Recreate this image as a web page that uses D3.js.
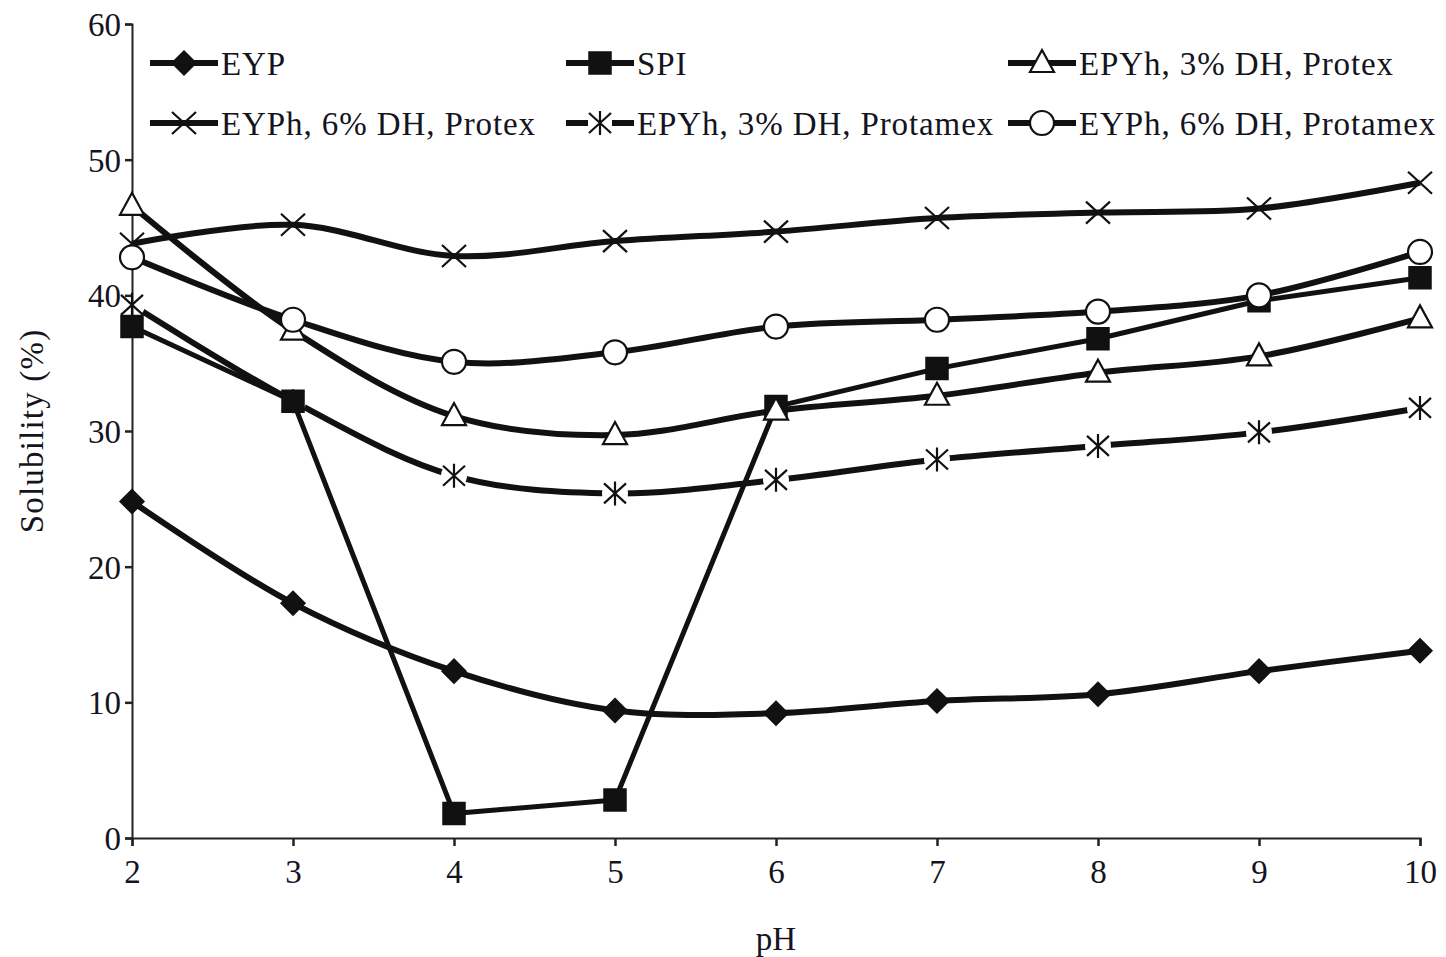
<!DOCTYPE html>
<html>
<head>
<meta charset="utf-8">
<script src="https://cdn.jsdelivr.net/npm/d3@7"></script>
<style>
  body { margin: 0; background: #fff; }
  text { font-family: "Liberation Serif", "DejaVu Serif", serif; fill: #141420; }
</style>
</head>
<body>
<svg id="chart" width="1446" height="957"></svg>
<script>
// data
var pH = [2, 3, 4, 5, 6, 7, 8, 9, 10];
var eyp = [24.8, 17.3, 12.3, 9.4, 9.2, 10.1, 10.6, 12.3, 13.8];
var spi = [37.7, 32.2, 1.8, 2.8, 31.8, 34.6, 36.8, 39.6, 41.3];
var protex3 = [46.6, 37.4, 31.1, 29.7, 31.5, 32.6, 34.3, 35.5, 38.3];
var protex6 = [43.8, 45.2, 42.9, 44.0, 44.7, 45.7, 46.1, 46.4, 48.3];
var protamex3 = [39.3, 32.2, 26.7, 25.4, 26.4, 27.9, 28.9, 29.9, 31.7];
var protamex6 = [42.8, 38.2, 35.1, 35.8, 37.7, 38.2, 38.8, 40.0, 43.2];
var yTicks = [0, 10, 20, 30, 40, 50, 60];

var series = [
  { name: "EYP", values: eyp, marker: "diamond", smooth: true, gap: false },
  { name: "SPI", values: spi, marker: "square", smooth: false, gap: false },
  { name: "EPYh, 3% DH, Protex", values: protex3, marker: "triangle", smooth: true, gap: false },
  { name: "EYPh, 6% DH, Protex", values: protex6, marker: "cross", smooth: true, gap: false },
  { name: "EPYh, 3% DH, Protamex", values: protamex3, marker: "star", smooth: true, gap: true },
  { name: "EYPh, 6% DH, Protamex", values: protamex6, marker: "circle", smooth: true, gap: false }
];

var svg = d3.select("#chart");
var x = d3.scaleLinear().domain([2, 10]).range([132, 1420]);
var y = d3.scaleLinear().domain([0, 60]).range([838, 24]);

// axes
var xAxis = svg.append("g").attr("transform", "translate(0," + y(0) + ")")
  .call(d3.axisBottom(x).tickValues(pH).tickSize(8).tickPadding(14).tickFormat(d3.format("d")));
var yAxis = svg.append("g").attr("transform", "translate(" + x(2) + ",0)")
  .call(d3.axisLeft(y).tickValues(yTicks).tickSize(7).tickPadding(4));
[xAxis, yAxis].forEach(function(a) {
  a.select(".domain").attr("stroke", "#222").attr("stroke-width", 2);
  a.selectAll(".tick line").attr("stroke", "#222").attr("stroke-width", 2.5);
  a.selectAll(".tick text").style("font-size", "33px").attr("fill", "#141420");
});
yAxis.selectAll(".tick text").attr("dy", "0.35em");

svg.append("text").attr("x", x(6)).attr("y", 950).attr("text-anchor", "middle")
  .style("font-size", "33px").text("pH");
svg.append("text").attr("transform", "translate(43," + y(30) + ") rotate(-90)")
  .attr("text-anchor", "middle").style("font-size", "33px").style("letter-spacing", "1.2px")
  .text("Solubility (%)");

// markers
function markerPath(type) {
  switch (type) {
    case "diamond": return "M0,-12L12,0L0,12L-12,0Z";
    case "square": return "M-11,-11H11V11H-11Z";
    case "triangle": return "M0,-13L12,9H-12Z";
    case "cross": return "M-12,-11L12,11M-12,11L12,-11";
    case "star": return "M-11,-10L11,10M-11,10L11,-10M0,-12V12";
    case "circle": return d3.arc()({ innerRadius: 0, outerRadius: 12, startAngle: 0, endAngle: 2 * Math.PI });
  }
}
function drawMarker(g, type) {
  var filled = type === "diamond" || type === "square";
  var open = type === "triangle" || type === "circle";
  g.append("path").attr("d", markerPath(type))
    .attr("fill", filled ? "#111" : open ? "#fff" : "none")
    .attr("stroke", "#111")
    .attr("stroke-width", filled ? 1.5 : 2.2);
}

var defs = svg.append("defs");
var plot = svg.append("g");

series.forEach(function(s, i) {
  var pts = pH.map(function(p, j) { return [x(p), y(s.values[j])]; });
  var line = d3.line().curve(s.smooth ? d3.curveCatmullRom.alpha(0.5) : d3.curveLinear);
  var path = plot.append("path").attr("d", line(pts))
    .attr("fill", "none").attr("stroke", "#111")
    .attr("stroke-width", s.marker === "square" ? 5 : 6)
    .attr("stroke-linejoin", "round");
  if (s.gap) {
    var m = defs.append("mask").attr("id", "gap" + i).attr("maskUnits", "userSpaceOnUse");
    m.append("rect").attr("width", 1446).attr("height", 957).attr("fill", "#fff");
    pts.forEach(function(p) {
      m.append("circle").attr("cx", p[0]).attr("cy", p[1]).attr("r", 13).attr("fill", "#000");
    });
    path.attr("mask", "url(#gap" + i + ")");
  }
});

series.forEach(function(s) {
  pH.forEach(function(p, j) {
    var g = plot.append("g").attr("transform", "translate(" + x(p) + "," + y(s.values[j]) + ")");
    drawMarker(g, s.marker);
  });
});

// legend
var legendPos = [[150, 63], [566, 63], [1008, 63], [150, 123], [566, 123], [1008, 123]];
series.forEach(function(s, i) {
  var lx = legendPos[i][0], ly = legendPos[i][1];
  var g = svg.append("g").attr("transform", "translate(" + lx + "," + ly + ")");
  if (s.gap) {
    g.append("line").attr("x1", 0).attr("x2", 22).attr("stroke", "#111").attr("stroke-width", 6);
    g.append("line").attr("x1", 46).attr("x2", 68).attr("stroke", "#111").attr("stroke-width", 6);
  } else {
    g.append("line").attr("x1", 0).attr("x2", 68).attr("stroke", "#111").attr("stroke-width", 6);
  }
  var mg = g.append("g").attr("transform", "translate(34,0)");
  drawMarker(mg, s.marker);
  g.append("text").attr("x", 71).attr("y", 0).attr("dy", "0.35em")
    .style("font-size", "33px").style("letter-spacing", "0.9px").text(s.name);
});
</script>
</body>
</html>
